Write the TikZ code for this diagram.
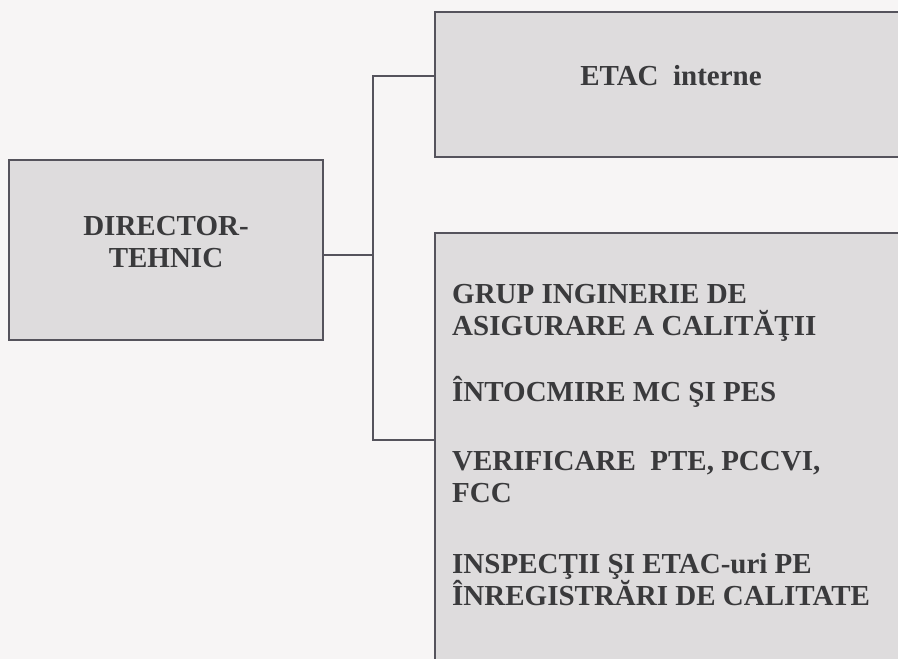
\documentclass[tikz,border=0pt]{standalone}
\usepackage{fontspec}
\setmainfont{Liberation Serif}
\usepackage{tikz}
\usetikzlibrary{positioning}
\definecolor{paper}{HTML}{F7F5F5}
\definecolor{boxfill}{HTML}{DEDCDD}
\definecolor{boxline}{HTML}{55535C}
\definecolor{ink}{HTML}{3A3A3C}

\begin{document}
\begin{tikzpicture}[x=1pt,y=-1pt,
  box node/.style={rectangle,draw=boxline,line width=2.4pt,fill=boxfill,inner sep=0pt},
  label node/.style={font=\fontsize{29}{32}\selectfont\bfseries,text=ink,inner sep=0pt,anchor=base},
  item node/.style={label node,anchor=base west},
  bus/.style={draw=boxline,line width=2pt}]
  \fill[paper] (0,0) rectangle (898,659);
  \useasboundingbox (0,0) rectangle (898,659);
  \clip (0,0) rectangle (898,659);

  \node[box node,minimum width=314pt,minimum height=180pt] (director) at (166,250) {};
  \node[box node,minimum width=525pt,minimum height=145pt] (etac) at (697.5,84.5) {};
  \node[box node,minimum width=525pt,minimum height=467pt] (grup) at (697.5,466.5) {};

  \node[label node] (director1) at (166,235) {DIRECTOR-};
  \node[label node] (director2) at (166,267) {TEHNIC};
  \node[label node] (etac label) at (671,85) {ETAC\ \ interne};

  \node[item node] (grup1) at (452,303) {GRUP INGINERIE DE};
  \node[item node] (grup2) at (452,335) {ASIGURARE A CALITĂŢII};
  \node[item node] (mc) at (452,401) {ÎNTOCMIRE MC ŞI PES};
  \node[item node] (pte1) at (452,470) {VERIFICARE\ \ PTE, PCCVI,};
  \node[item node] (pte2) at (452,502) {FCC};
  \node[item node] (insp1) at (452,573) {INSPECŢII ŞI ETAC-uri PE};
  \node[item node] (insp2) at (452,605) {ÎNREGISTRĂRI DE CALITATE};

  \coordinate (bus top) at (373,76);
  \coordinate (bus mid) at (373,255);
  \coordinate (bus bottom) at (373,440);

  \path[bus] (etac.west |- bus top) -- (bus top) -- (bus bottom) -- (grup.west |- bus bottom);
  \path[bus] (director.east |- bus mid) -- (bus mid);
\end{tikzpicture}
\end{document}
